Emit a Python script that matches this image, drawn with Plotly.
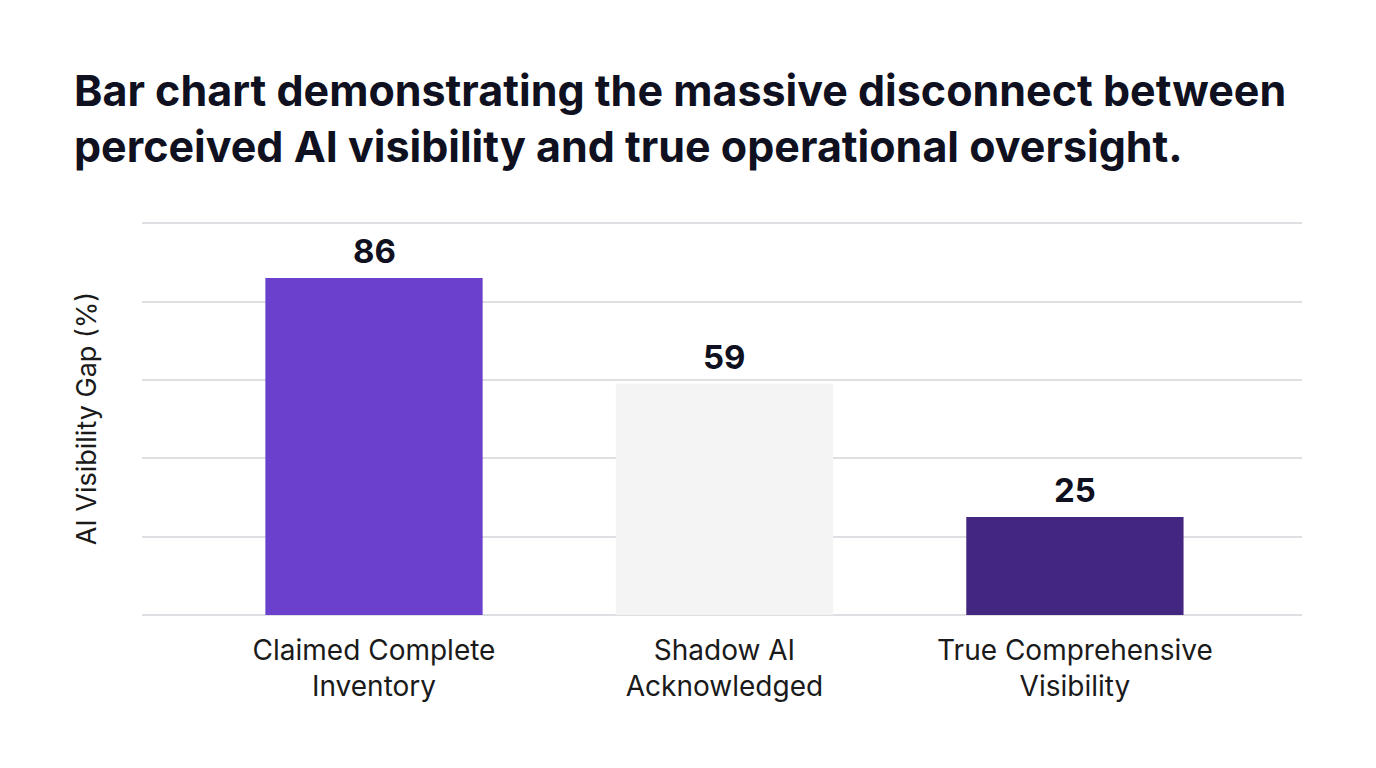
import plotly.graph_objects as go

categories = ["Claimed Complete<br>Inventory", "Shadow AI<br>Acknowledged", "True Comprehensive<br>Visibility"]
values = [86, 59, 25]
bar_colors = ["#6b40cd", "#f4f4f4", "#42267f"]
title_text = "Bar chart demonstrating the massive disconnect between<br>perceived AI visibility and true operational oversight."
y_title = "AI Visibility Gap (%)"

fig = go.Figure()
fig.add_trace(go.Bar(
    x=categories, y=values, marker=dict(color=bar_colors, line=dict(width=0)),
    width=0.62, hoverinfo="skip",
))

for c, v in zip(categories, values):
    fig.add_annotation(x=c, y=v, text=f"<b>{v}</b>", showarrow=False,
                       yanchor="bottom", yshift=5,
                       font=dict(family="Inter", size=33, color="#0f1020"))

fig.update_layout(
    width=1376, height=768,
    paper_bgcolor="white", plot_bgcolor="white",
    margin=dict(l=142, r=74, t=222, b=153),
    showlegend=False,
    title=dict(text=f"<b>{title_text}</b>", x=74/1376, xanchor="left", xref="container",
               y=1-106/768, yanchor="top", yref="container",
               font=dict(family="Inter", size=43, color="#0f1020")),
    xaxis=dict(type="category", range=[-0.662, 2.648], showgrid=False, showline=False,
               ticks="", ticklabelstandoff=16,
               tickfont=dict(family="Inter", size=28, color="#1a1a1a")),
    yaxis=dict(range=[0, 100.3], tickvals=[0, 20, 40, 60, 80, 100], showticklabels=False, showgrid=True,
               gridcolor="#dedfe3", gridwidth=1.5, zeroline=True, zerolinecolor="#dedfe3",
               zerolinewidth=1.5, showline=False, ticks="",
               title=dict(text=y_title, standoff=36,
                          font=dict(family="Inter", size=27, color="#1a1a1a"))),
)

fig.write_html("out.html")
